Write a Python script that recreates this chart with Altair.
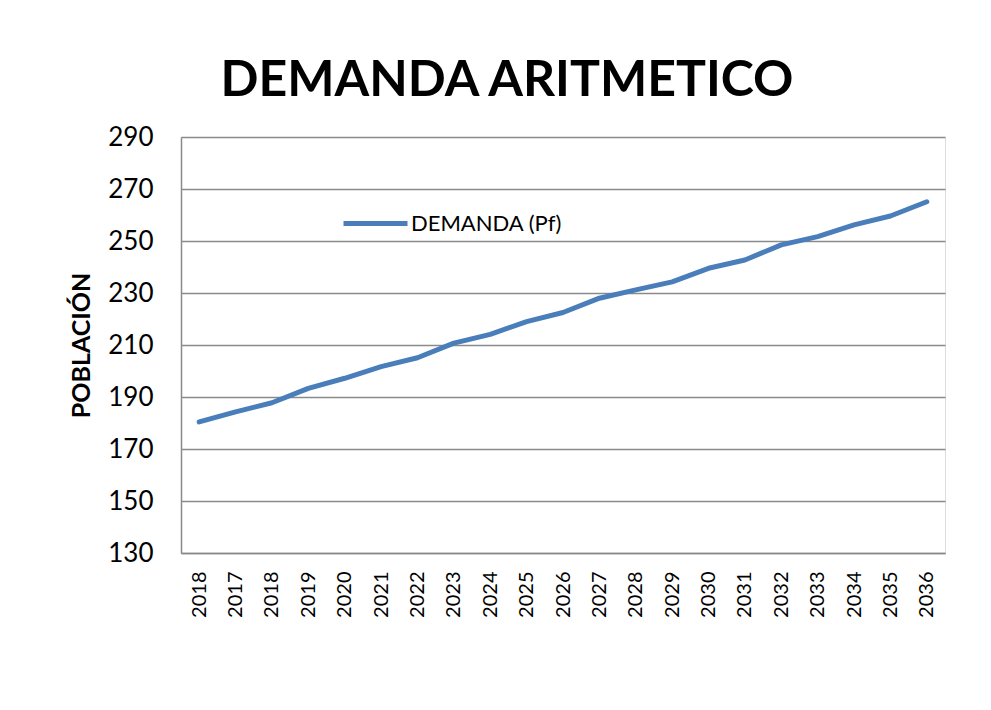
import altair as alt
import pandas as pd

# --- data ---
years = ["2018", "2017", "2018", "2019", "2020", "2021", "2022", "2023", "2024", "2025",
         "2026", "2027", "2028", "2029", "2030", "2031", "2032", "2033", "2034", "2035", "2036"]
demanda = [180.4, 184.3, 187.8, 193.3, 197.2, 201.7, 205.1, 210.7, 214.1, 219.0,
           222.5, 228.0, 231.2, 234.3, 239.5, 242.7, 248.5, 251.7, 256.2, 259.6, 265.1]
serie_name = "DEMANDA (Pf)"
y_ticks = [130, 150, 170, 190, 210, 230, 250, 270, 290]

df = pd.DataFrame({
    "idx": list(range(len(years))),
    "anio": years,
    "demanda": demanda,
    "serie": [serie_name] * len(years),
})

label_expr = "[" + ",".join(f"'{y}'" for y in years) + "][datum.value]"

FONT = "Lato"
GRID = "#8a8a8a"

chart = alt.Chart(df).mark_line(
    strokeWidth=5, strokeCap="round", strokeJoin="round"
).encode(
    x=alt.X("idx:O", axis=alt.Axis(
        title=None, labelExpr=label_expr, labelAngle=-90, labelFontSize=20,
        labelFont=FONT, labelColor="#000000", ticks=False, tickSize=0,
        labelPadding=18, domainColor=GRID, domainWidth=1.5, grid=False)),
    y=alt.Y("demanda:Q",
            scale=alt.Scale(domain=[130, 290], nice=False, zero=False),
            axis=alt.Axis(
                values=y_ticks, title="POBLACIÓN", titleFont=FONT, titleFontSize=25,
                titleFontWeight="bold", titleColor="#000000", titleX=-100, titleY=208,
                titleAlign="center", titleBaseline="middle", titleAngle=-90,
                labelFont=FONT, labelFontSize=26, labelColor="#000000",
                ticks=False, tickSize=0, labelPadding=28,
                domainColor=GRID, domainWidth=1.5,
                grid=True, gridColor=GRID, gridWidth=1.5)),
    color=alt.Color("serie:N", scale=alt.Scale(range=["#4a7ebb"]),
                    legend=alt.Legend(
                        title=None, orient="none", legendX=160, legendY=52,
                        symbolType="stroke", symbolSize=4096, symbolStrokeWidth=5,
                        labelFont=FONT, labelFontSize=22, labelColor="#000000",
                        labelOffset=1, padding=0)),
).properties(
    width=764,
    height=416,
    title=alt.TitleParams(
        "DEMANDA ARITMETICO", font=FONT, fontSize=50, fontWeight="bold",
        color="#000000", anchor="middle", dx=-56, dy=62, offset=40, baseline="alphabetic"),
    padding={"left": 173, "top": 129, "right": 30, "bottom": 145},
    autosize=alt.AutoSizeParams(type="none"),
).configure_view(stroke=None).configure(background="white")

chart.save("out.html", embed_options={"renderer": "svg", "actions": False})
